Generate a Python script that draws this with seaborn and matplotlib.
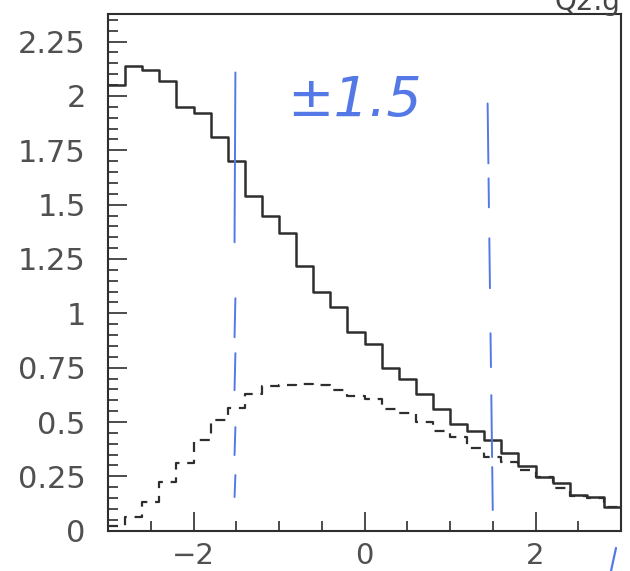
import numpy as np
import pandas as pd
import matplotlib
matplotlib.use("Agg")
import matplotlib.pyplot as plt
from matplotlib.ticker import FixedLocator, MultipleLocator, FixedFormatter
from matplotlib.lines import Line2D
import seaborn as sns

# ---- data -------------------------------------------------------------
bin_edges = [-3.0, -2.8, -2.6, -2.4, -2.2, -2.0, -1.8, -1.6, -1.4, -1.2, -1.0,
             -0.8, -0.6, -0.4, -0.2, 0.0, 0.2, 0.4, 0.6, 0.8, 1.0,
             1.2, 1.4, 1.6, 1.8, 2.0, 2.2, 2.4, 2.6, 2.8, 3.0]
solid_heights = [2.05, 2.14, 2.12, 2.07, 1.95, 1.92, 1.81, 1.70, 1.54, 1.45,
                 1.37, 1.22, 1.10, 1.03, 0.915, 0.86, 0.75, 0.70, 0.63, 0.56,
                 0.49, 0.46, 0.415, 0.356, 0.296, 0.247, 0.22, 0.165, 0.153, 0.11]
dashed_heights = [0.022, 0.062, 0.13, 0.225, 0.31, 0.415, 0.51, 0.565, 0.628, 0.665,
                  0.668, 0.675, 0.668, 0.645, 0.618, 0.604, 0.558, 0.54, 0.498, 0.457,
                  0.432, 0.382, 0.34, 0.318, 0.278, 0.245, 0.195, 0.158, 0.15, 0.11]
x_major_ticks = [-2, 0, 2]
x_tick_labels = ["\u22122", "0", "2"]
y_major_ticks = [0, 0.25, 0.5, 0.75, 1.0, 1.25, 1.5, 1.75, 2.0, 2.25]
y_tick_labels = ["0", "0.25", "0.5", "0.75", "1", "1.25", "1.5", "1.75", "2", "2.25"]
cut_lines = [-1.5, 1.5]
cut_label = "\u00b11.5"

bin_centers = [(a + b) / 2 for a, b in zip(bin_edges[:-1], bin_edges[1:])]
df = pd.DataFrame({"x": bin_centers, "solid": solid_heights, "dashed": dashed_heights})

# ---- style ------------------------------------------------------------
sns.set_style("ticks")
plt.rcParams["font.family"] = ["DejaVu Sans"]

fig, ax = plt.subplots(figsize=(6.3, 5.71), dpi=100)
fig.subplots_adjust(left=108 / 630, right=621 / 630, bottom=1 - 530.7 / 571, top=1 - 14 / 571)

line_col = "#2e2e2e"
sns.histplot(data=df, x="x", weights="solid", bins=bin_edges, element="step",
             fill=False, color=line_col, linewidth=1.8, ax=ax)
sns.histplot(data=df, x="x", weights="dashed", bins=bin_edges, element="step",
             fill=False, color=line_col, linewidth=1.6, linestyle=(0, (4.5, 3.5)), ax=ax)

# hand-drawn blue cut lines (dashed, slightly irregular)
blue = "#5479e6"
ypx = lambda p: (530.7 - p) / 217.6
left_segs = [(72, 242), (298, 337), (353, 390), (427, 455), (475, 497)]
right_segs = [(103, 163), (178, 207), (238, 288), (333, 367), (395, 457), (467, 510)]
for a, b in left_segs:
    ax.plot([cut_lines[0] - 0.01, cut_lines[0] - 0.02], [ypx(a), ypx(b)], color=blue, lw=1.4)
for a, b in right_segs:
    xa = cut_lines[1] - 0.06 + 0.06 * (a - 103) / 407
    xb = cut_lines[1] - 0.06 + 0.06 * (b - 103) / 407
    ax.plot([xa, xb], [ypx(a), ypx(b)], color=blue, lw=1.4)
ax.text(-0.12, 1.98, cut_label, color=blue, fontsize=40, ha="center", va="center",
        fontstyle="italic", fontweight="light")

# axes
ax.set_xlim(bin_edges[0], bin_edges[-1])
ax.set_ylim(0, 2.377)
ax.set_xlabel("")
ax.set_ylabel("")
ax.xaxis.set_major_locator(FixedLocator(x_major_ticks))
ax.xaxis.set_major_formatter(FixedFormatter(x_tick_labels))
ax.xaxis.set_minor_locator(MultipleLocator(0.5))
ax.yaxis.set_major_locator(FixedLocator(y_major_ticks))
ax.yaxis.set_major_formatter(FixedFormatter(y_tick_labels))
ax.yaxis.set_minor_locator(MultipleLocator(0.05))
ax.tick_params(which="both", direction="in", color=line_col, width=1.2,
               top=False, right=False)
ax.tick_params(which="major", length=14)
ax.tick_params(which="minor", length=7)
ax.tick_params(axis="x", which="major", pad=8, labelsize=21, labelcolor="#505050")
ax.tick_params(axis="y", which="major", pad=16, labelsize=22, labelcolor="#505050")
for sp in ax.spines.values():
    sp.set_visible(True)
    sp.set_color(line_col)
    sp.set_linewidth(1.5)

fig.text(555 / 630, 1 - 10 / 571, "Q2.g", fontsize=20, color="#444444", va="baseline")
fig.add_artist(Line2D([616 / 630, 611 / 630], [1 - 548 / 571, 0.0], transform=fig.transFigure,
                      color=blue, lw=1.6))

fig.savefig("out.png", dpi=100)
